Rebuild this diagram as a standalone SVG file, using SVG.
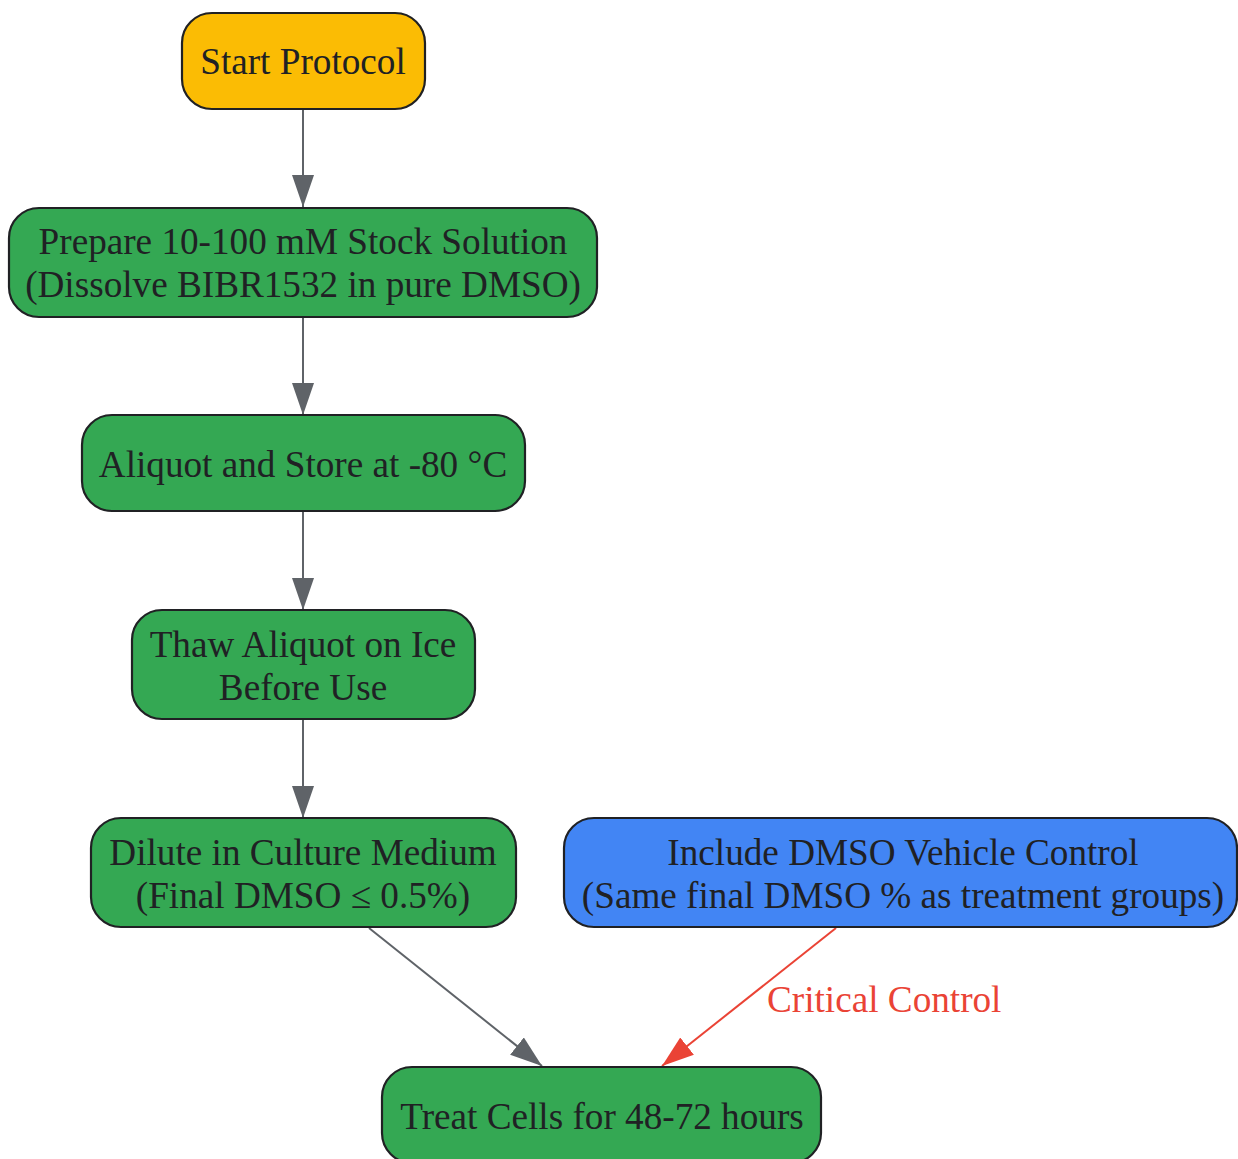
<svg xmlns="http://www.w3.org/2000/svg" width="1238" height="1159" viewBox="0 0 1238 1159">
<defs>
<style>
.node rect{stroke:#202124;stroke-width:2.2}
.g rect{fill:#34A853}
.y rect{fill:#FBBC04}
.b rect{fill:#4285F4}
text{font-family:"Liberation Serif","Times New Roman",serif;font-size:37.2px;fill:#202124;text-anchor:middle}
.e{stroke:#5F6368;stroke-width:2;fill:none}
.r{stroke:#EA4335;stroke-width:2;fill:none}
text.lbl{fill:#EA4335;text-anchor:start}
</style>
<marker id="ag" markerUnits="userSpaceOnUse" markerWidth="32" markerHeight="22" refX="32" refY="11" orient="auto"><path d="M0,0 L32,11 L0,22 z" fill="#5F6368"/></marker>
<marker id="ar" markerUnits="userSpaceOnUse" markerWidth="32" markerHeight="22" refX="32" refY="11" orient="auto"><path d="M0,0 L32,11 L0,22 z" fill="#EA4335"/></marker>
</defs>
<rect width="1238" height="1159" fill="#ffffff"/>
<g id="edges">
<line class="e" x1="303" y1="109" x2="303" y2="207" marker-end="url(#ag)"/>
<line class="e" x1="303" y1="317" x2="303" y2="415" marker-end="url(#ag)"/>
<line class="e" x1="303" y1="511" x2="303" y2="610" marker-end="url(#ag)"/>
<line class="e" x1="303" y1="719" x2="303" y2="818" marker-end="url(#ag)"/>
<line class="e" x1="369" y1="928" x2="542" y2="1066" marker-end="url(#ag)"/>
<line class="r" x1="836" y1="928" x2="662" y2="1066" marker-end="url(#ar)"/>
<text class="lbl" x="767" y="1012">Critical Control</text>
</g>
<g id="start" class="node y"><rect x="182" y="13" width="243" height="96" rx="30"/><text x="303" y="74">Start Protocol</text></g>
<g id="prepare" class="node g"><rect x="9" y="208" width="588" height="109" rx="30"/><text x="303" y="254">Prepare 10-100 mM Stock Solution</text><text x="303" y="297">(Dissolve BIBR1532 in pure DMSO)</text></g>
<g id="aliquot" class="node g"><rect x="82" y="415" width="443" height="96" rx="30"/><text x="303" y="477">Aliquot and Store at -80 °C</text></g>
<g id="thaw" class="node g"><rect x="132" y="610" width="343" height="109" rx="30"/><text x="303" y="657">Thaw Aliquot on Ice</text><text x="303" y="700">Before Use</text></g>
<g id="dilute" class="node g"><rect x="91" y="818" width="425" height="109" rx="30"/><text x="303" y="865">Dilute in Culture Medium</text><text x="303" y="908">(Final DMSO ≤ 0.5%)</text></g>
<g id="vehicle" class="node b"><rect x="564" y="818" width="673" height="109" rx="30"/><text x="903" y="865">Include DMSO Vehicle Control</text><text x="903" y="908">(Same final DMSO % as treatment groups)</text></g>
<g id="treat" class="node g"><rect x="382" y="1067" width="439" height="96" rx="30"/><text x="602" y="1129">Treat Cells for 48-72 hours</text></g>
</svg>
